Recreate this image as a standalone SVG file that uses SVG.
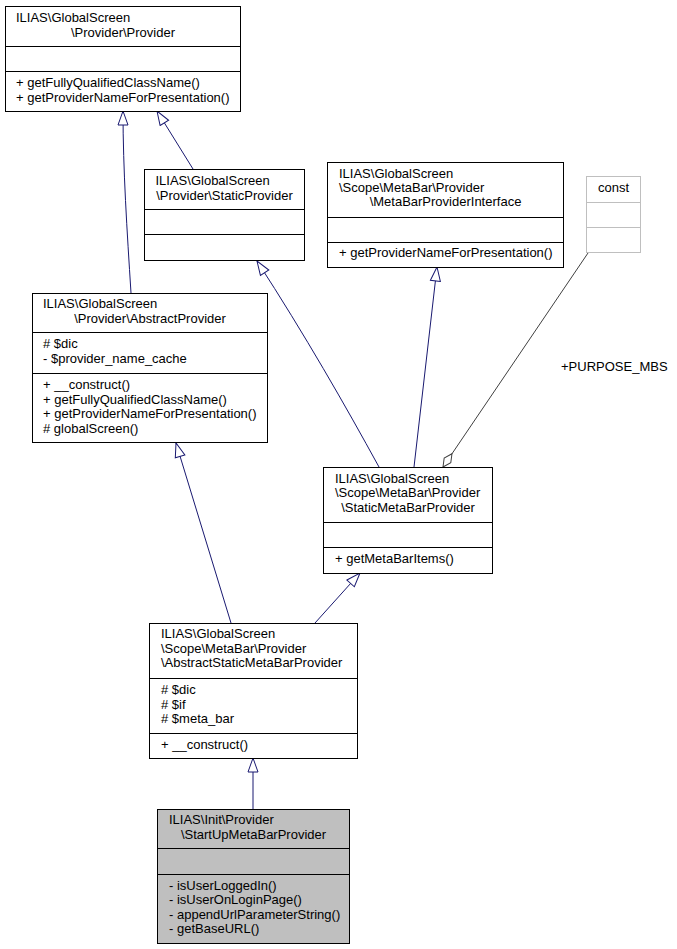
<svg xmlns="http://www.w3.org/2000/svg" width="677" height="949" viewBox="0 0 677 949">
<style>
  .box { fill: #ffffff; stroke: #000000; stroke-width: 1; }
  .sep { stroke: #000000; stroke-width: 1; }
  .cur { fill: #bfbfbf; }
  .gray { fill: #ffffff; stroke: #bfbfbf; stroke-width: 1; }
  .graysep { stroke: #bfbfbf; stroke-width: 1; }
  text { font-family: "Liberation Sans", Arial, Helvetica, sans-serif; font-size: 13px; fill: #000000; }
  .inh { fill: none; stroke: #191970; stroke-width: 1; marker-end: url(#tri); }
  .agg { fill: none; stroke: #404040; stroke-width: 1; marker-end: url(#dia); }
</style>
<defs>
  <marker id="tri" markerUnits="userSpaceOnUse" viewBox="0 0 16 12" refX="15" refY="6" markerWidth="16" markerHeight="12" orient="auto">
    <path d="M1,1 L15,6 L1,11 Z" fill="#ffffff" stroke="#191970" stroke-width="1"/>
  </marker>
  <marker id="dia" markerUnits="userSpaceOnUse" viewBox="0 0 18 10" refX="17" refY="5" markerWidth="18" markerHeight="10" orient="auto">
    <path d="M1,5 L9,1 L17,5 L9,9 Z" fill="#ffffff" stroke="#404040" stroke-width="1"/>
  </marker>
</defs>
<rect width="677" height="949" fill="#ffffff"/>

<g id="connectors">
  <path class="inh" d="M131,293 C127,230 123,170 123,111"/>
  <path class="inh" d="M193,169 L157,111"/>
  <path class="inh" d="M379,467 C345,405 305,335 257,261"/>
  <path class="inh" d="M414,467 L437,267"/>
  <path class="agg" d="M588,253 L443,467"/>
  <text x="561" y="371">+PURPOSE_MBS</text>
  <path class="inh" d="M231,623 L176,443"/>
  <path class="inh" d="M315,623 L360,573"/>
  <path class="inh" d="M253,809 L253,758"/>
</g>

<g id="provider">
  <rect class="box" x="5.5" y="6.5" width="235" height="105"/>
  <line class="sep" x1="5.5" y1="46.5" x2="240.5" y2="46.5"/>
  <line class="sep" x1="5.5" y1="71.5" x2="240.5" y2="71.5"/>
  <text x="16" y="22">ILIAS\GlobalScreen</text>
  <text x="123" y="36.5" text-anchor="middle">\Provider\Provider</text>
  <text x="16" y="87">+ getFullyQualifiedClassName()</text>
  <text x="16" y="101.5">+ getProviderNameForPresentation()</text>
</g>

<g id="staticprovider">
  <rect class="box" x="144.5" y="169.5" width="160" height="91"/>
  <line class="sep" x1="144.5" y1="209.5" x2="304.5" y2="209.5"/>
  <line class="sep" x1="144.5" y1="234.5" x2="304.5" y2="234.5"/>
  <text x="155.5" y="185">ILIAS\GlobalScreen</text>
  <text x="224.5" y="199.5" text-anchor="middle">\Provider\StaticProvider</text>
</g>

<g id="metabarproviderinterface">
  <rect class="box" x="327.5" y="162.5" width="236" height="105"/>
  <line class="sep" x1="327.5" y1="217.5" x2="563.5" y2="217.5"/>
  <line class="sep" x1="327.5" y1="242.5" x2="563.5" y2="242.5"/>
  <text x="339" y="177.5">ILIAS\GlobalScreen</text>
  <text x="339" y="191.8">\Scope\MetaBar\Provider</text>
  <text x="445.5" y="206" text-anchor="middle">\MetaBarProviderInterface</text>
  <text x="339" y="256.5">+ getProviderNameForPresentation()</text>
</g>

<g id="const">
  <rect class="gray" x="586.5" y="176.5" width="54" height="76"/>
  <line class="graysep" x1="586.5" y1="202.5" x2="640.5" y2="202.5"/>
  <line class="graysep" x1="586.5" y1="227.5" x2="640.5" y2="227.5"/>
  <text x="613.5" y="192" text-anchor="middle">const</text>
</g>

<g id="abstractprovider">
  <rect class="box" x="32.5" y="293.5" width="235" height="149"/>
  <line class="sep" x1="32.5" y1="332.5" x2="267.5" y2="332.5"/>
  <line class="sep" x1="32.5" y1="373.5" x2="267.5" y2="373.5"/>
  <text x="43" y="308.3">ILIAS\GlobalScreen</text>
  <text x="150" y="322.7" text-anchor="middle">\Provider\AbstractProvider</text>
  <text x="43" y="348.3"># $dic</text>
  <text x="43" y="362.7">- $provider_name_cache</text>
  <text x="43" y="389">+ __construct()</text>
  <text x="43" y="403.5">+ getFullyQualifiedClassName()</text>
  <text x="43" y="418">+ getProviderNameForPresentation()</text>
  <text x="43" y="432.5"># globalScreen()</text>
</g>

<g id="staticmetabarprovider">
  <rect class="box" x="323.5" y="467.5" width="169" height="106"/>
  <line class="sep" x1="323.5" y1="522.5" x2="492.5" y2="522.5"/>
  <line class="sep" x1="323.5" y1="547.5" x2="492.5" y2="547.5"/>
  <text x="335" y="482.7">ILIAS\GlobalScreen</text>
  <text x="335" y="497.2">\Scope\MetaBar\Provider</text>
  <text x="408" y="511.7" text-anchor="middle">\StaticMetaBarProvider</text>
  <text x="335" y="562.7">+ getMetaBarItems()</text>
</g>

<g id="abstractstaticmetabarprovider">
  <rect class="box" x="149.5" y="623.5" width="208" height="135"/>
  <line class="sep" x1="149.5" y1="678.5" x2="357.5" y2="678.5"/>
  <line class="sep" x1="149.5" y1="733.5" x2="357.5" y2="733.5"/>
  <text x="161" y="638.3">ILIAS\GlobalScreen</text>
  <text x="161" y="652.7">\Scope\MetaBar\Provider</text>
  <text x="161" y="667.2">\AbstractStaticMetaBarProvider</text>
  <text x="161" y="694"># $dic</text>
  <text x="161" y="708.5"># $if</text>
  <text x="161" y="723"># $meta_bar</text>
  <text x="161" y="749">+ __construct()</text>
</g>

<g id="startupmetabarprovider">
  <rect class="box cur" x="157.5" y="809.5" width="192" height="134"/>
  <line class="sep" x1="157.5" y1="848.5" x2="349.5" y2="848.5"/>
  <line class="sep" x1="157.5" y1="874.5" x2="349.5" y2="874.5"/>
  <text x="169" y="824.3">ILIAS\Init\Provider</text>
  <text x="253.5" y="838.7" text-anchor="middle">\StartUpMetaBarProvider</text>
  <text x="169" y="889.5">- isUserLoggedIn()</text>
  <text x="169" y="904">- isUserOnLoginPage()</text>
  <text x="169" y="918.5">- appendUrlParameterString()</text>
  <text x="169" y="933">- getBaseURL()</text>
</g>
</svg>
